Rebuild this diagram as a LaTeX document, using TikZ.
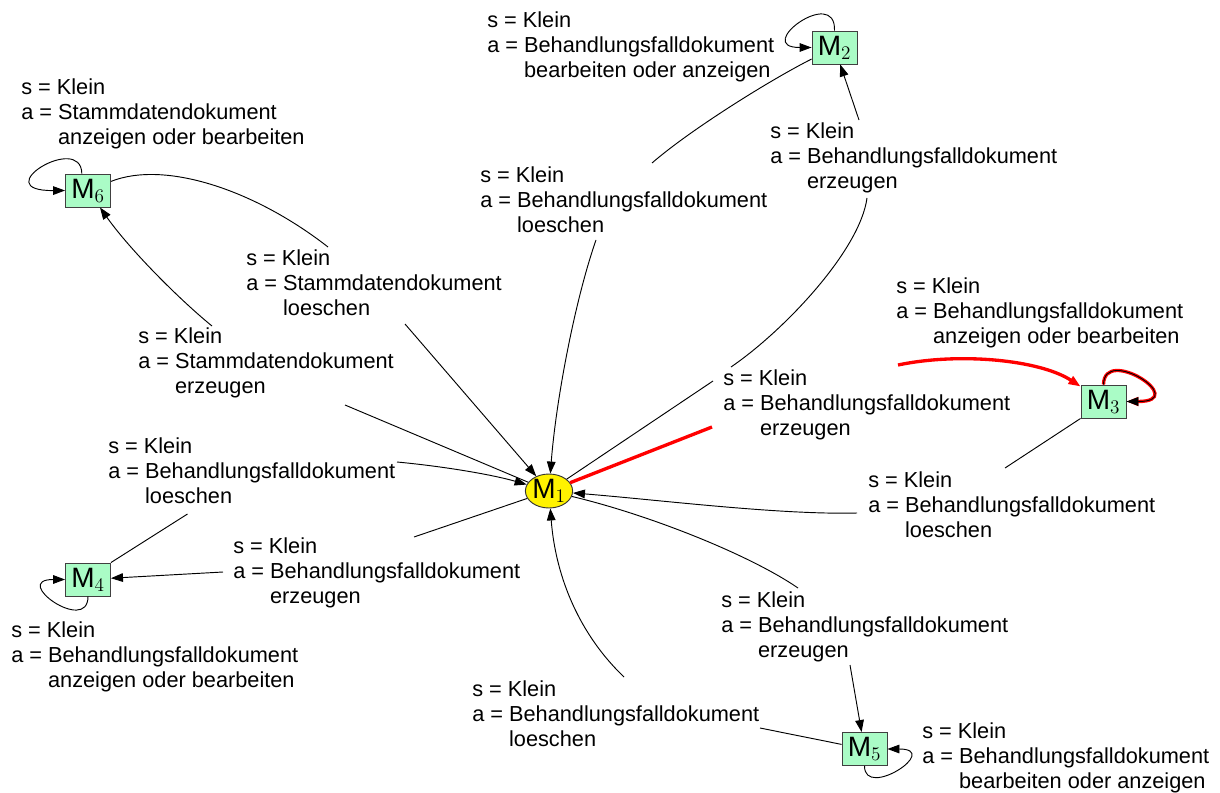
\documentclass[tikz,border=0pt]{standalone}
\usepackage{fontspec}
\setmainfont{Liberation Sans}
\usetikzlibrary{arrows.meta,shapes.geometric}
\definecolor{stgreen}{RGB}{170,252,198}
\newcommand{\elab}[2]{\vtop{\hbox{s = Klein}\hbox{a = #1}\hbox{\phantom{a = }#2}}}
\tikzset{
  st/.style={rectangle, draw=black!75, line width=0.7pt, fill=stgreen, minimum width=33.75pt, minimum height=24.75pt, inner sep=0pt, font=\fontsize{21}{22}\selectfont},
  hub/.style={ellipse, draw=black!80, line width=0.7pt, fill=yellow, minimum width=32.25pt, minimum height=25.5pt, inner sep=0pt, font=\fontsize{21}{22}\selectfont},
  lab/.style={anchor=base west, inner sep=0pt, font=\fontsize{16.3}{18.75}\selectfont},
  edge/.style={draw=black, line width=0.7pt},
  redge/.style={draw=red, line width=2.5pt},
  arr/.style={-{Triangle[length=9pt,width=6.5pt]}},
}
\begin{document}
\begin{tikzpicture}[x=0.75pt,y=-0.75pt]
\useasboundingbox (0,0) rectangle (1220,792);
% states
\node[hub] (M1) at (549,491) {M$_1$};
\node[st] (M2) at (834.5,47.5) {M$_2$};
\node[st] (M3) at (1103.5,401.5) {M$_3$};
\node[st] (M4) at (88,579.5) {M$_4$};
\node[st] (M5) at (864.5,749) {M$_5$};
\node[st] (M6) at (88,190.5) {M$_6$};
% break points of the edges at their labels
\coordinate (e1a) at (713,381);  \coordinate (e1b) at (731,367);
\coordinate (e1c) at (867,198);  \coordinate (e1d) at (859,120);
\coordinate (e2a) at (652,163);  \coordinate (e2b) at (596,240);
\coordinate (e5a) at (328,247);  \coordinate (e5b) at (405,324);
\coordinate (e6a) at (345,405);  \coordinate (e6b) at (212,326);
\coordinate (e7a) at (187.5,514); \coordinate (e7b) at (397,462);
\coordinate (e8a) at (414,537);  \coordinate (e8b) at (223,572);
\coordinate (e10a) at (1005,468); \coordinate (e10b) at (857,513);
\coordinate (e11a) at (798,588); \coordinate (e11b) at (850,665);
\coordinate (e12a) at (760,728); \coordinate (e12b) at (624,677);
\coordinate (e15a) at (712,427); \coordinate (e15b) at (898,365);
% M1 -> M2
\draw[edge] (M1) -- (e1a);
\draw[edge] (e1b) .. controls (785,330) and (860,250) .. (e1c);
\draw[edge,arr] (e1d) -- (M2);
% M2 -> M1
\draw[edge] (M2) .. controls (770,80) and (690,130) .. (e2a);
\draw[edge,arr] (e2b) .. controls (575,300) and (556,400) .. (M1);
% M2 self loop
\draw[edge,arr] (M2.north) .. controls (836,-15) and (752,47.5) .. (M2.west);
% M6 self loop
\draw[edge,arr] (M6.110) .. controls (81,132) and (-15,191) .. (M6.west);
% M6 -> M1
\draw[edge] (M6) .. controls (165,160) and (255,190) .. (e5a);
\draw[edge,arr] (e5b) -- (M1);
% M1 -> M6
\draw[edge] (M1) -- (e6a);
\draw[edge,arr] (e6b) .. controls (180,300) and (130,250) .. (M6);
% M4 -> M1
\draw[edge] (M4.north east) -- (e7a);
\draw[edge,arr] (e7b) .. controls (440,466) and (490,474) .. (M1);
% M1 -> M4
\draw[edge] (M1) -- (e8a);
\draw[edge,arr] (e8b) -- (M4);
% M4 self loop
\draw[edge,arr] (M4.south) .. controls (88,635) and (10,579.5) .. (M4.west);
% M3 -> M1
\draw[edge] (M3.south west) -- (e10a);
\draw[edge,arr] (e10b) .. controls (780,515) and (660,500) .. (M1);
% M1 -> M5
\draw[edge] (M1) .. controls (650,515) and (750,555) .. (e11a);
\draw[edge,arr] (e11b) -- (M5);
% M5 -> M1
\draw[edge] (M5) -- (e12a);
\draw[edge,arr] (e12b) .. controls (575,630) and (555,570) .. (M1);
% M5 self loop
\draw[edge,arr] (M5.south) .. controls (864.5,800) and (942,749) .. (M5.east);
% M1 -> M3 (red)
\draw[redge] (M1) -- (e15a);
\draw[redge,arr] (e15b) .. controls (960,352) and (1040,360) .. (M3);
% M3 self loop (red)
\draw[redge,arr] (M3.north) .. controls (1104,345) and (1191,401.5) .. (M3.east);
\draw[edge,arr] (M3.north) .. controls (1104,345) and (1191,401.5) .. (M3.east);
% labels
\node[lab] (l1) at (770,138) {\elab{Behandlungsfalldokument}{erzeugen}};
\node[lab] (l2) at (480,182) {\elab{Behandlungsfalldokument}{loeschen}};
\node[lab] (l3) at (487,28) {\elab{Behandlungsfalldokument}{bearbeiten oder anzeigen}};
\node[lab] (l4) at (21,94) {\elab{Stammdatendokument}{anzeigen oder bearbeiten}};
\node[lab] (l5) at (246,265) {\elab{Stammdatendokument}{loeschen}};
\node[lab] (l6) at (138,343) {\elab{Stammdatendokument}{erzeugen}};
\node[lab] (l7) at (108,453) {\elab{Behandlungsfalldokument}{loeschen}};
\node[lab] (l8) at (233,553) {\elab{Behandlungsfalldokument}{erzeugen}};
\node[lab] (l9) at (11,637) {\elab{Behandlungsfalldokument}{anzeigen oder bearbeiten}};
\node[lab] (l10) at (868,487) {\elab{Behandlungsfalldokument}{loeschen}};
\node[lab] (l11) at (721,607) {\elab{Behandlungsfalldokument}{erzeugen}};
\node[lab] (l12) at (472,696) {\elab{Behandlungsfalldokument}{loeschen}};
\node[lab] (l13) at (922,738) {\elab{Behandlungsfalldokument}{bearbeiten oder anzeigen}};
\node[lab] (l14) at (896,293) {\elab{Behandlungsfalldokument}{anzeigen oder bearbeiten}};
\node[lab] (l15) at (723,385) {\elab{Behandlungsfalldokument}{erzeugen}};
\end{tikzpicture}
\end{document}
